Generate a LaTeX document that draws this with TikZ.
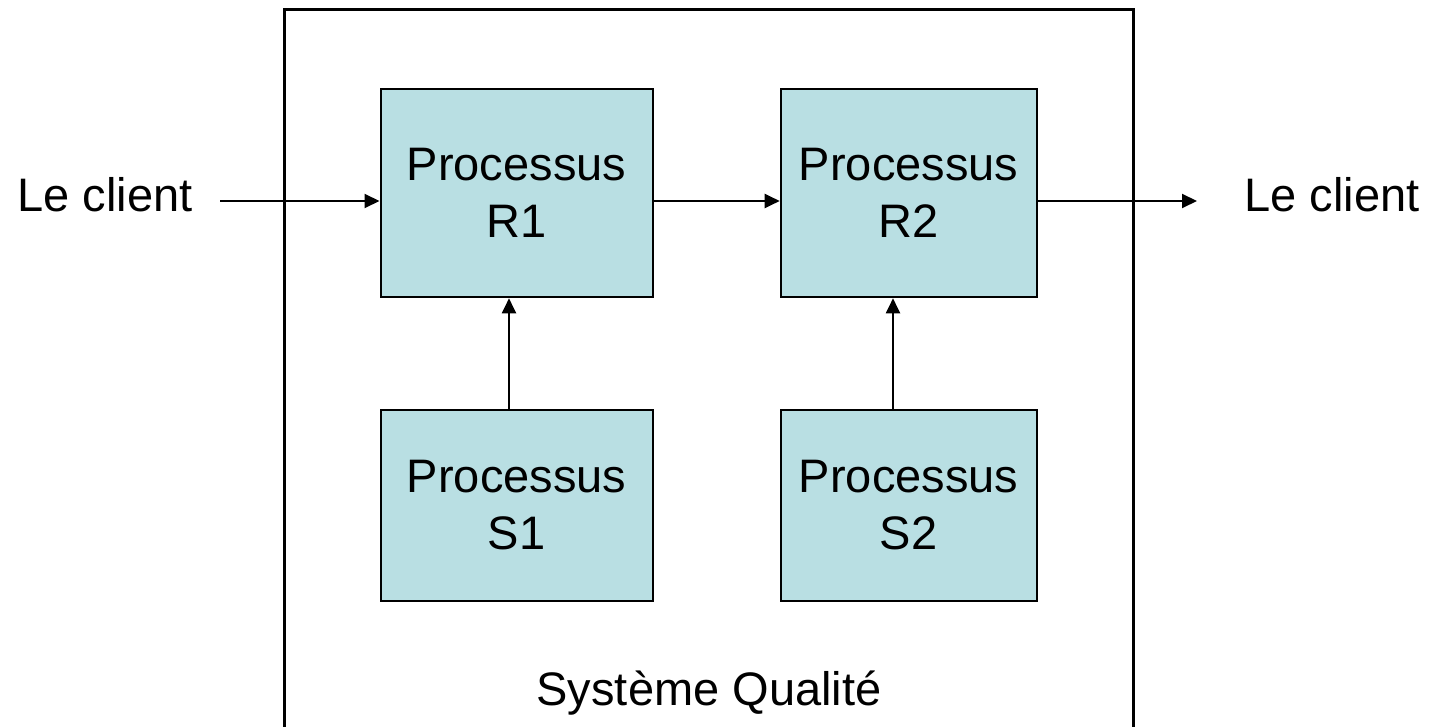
\documentclass[tikz,border=0pt]{standalone}
\usepackage{fontspec}
\setmainfont{Liberation Sans}
\usetikzlibrary{arrows.meta}
\definecolor{procfill}{RGB}{185,223,227}
\tikzset{
  procbox/.style={draw=black, line width=2pt, fill=procfill, inner sep=0pt,
    minimum height=208pt, align=center, font=\fontsize{47}{57}\selectfont},
  lbl/.style={inner sep=0pt, anchor=base, font=\fontsize{47}{57}\selectfont},
  arr/.style={draw=black, line width=2pt, -{Triangle[length=15pt,width=14pt]}}
}
\begin{document}
\begin{tikzpicture}[x=1pt,y=-1pt]
\useasboundingbox (0,0) rectangle (1433,727);
% outer box (bottom edge off the page)
\draw[line width=3pt] (284.5,9.5) rectangle (1133,760);
\node[lbl] (sq) at (709,705) {Système Qualité};
% process boxes
\node[procbox, minimum width=272pt] (R1) at (516.5,193.3) {Processus\\R1};
\node[procbox, minimum width=256pt] (R2) at (908.7,193.3) {Processus\\R2};
\node[procbox, minimum width=272pt, minimum height=191pt] (S1) at (516.7,505) {Processus\\S1};
\node[procbox, minimum width=256pt, minimum height=191pt] (S2) at (908.7,505) {Processus\\S2};
% client labels
\node[lbl] (cl) at (105,211.7) {Le client};
\node[lbl] (cr) at (1332,211.7) {Le client};
% connector helpers
\coordinate (row) at (0,201);
\coordinate (cin) at (220,201);
\coordinate (cout) at (1197,201);
\coordinate (v1) at (509,0);
\coordinate (v2) at (893,0);
% connectors
\draw[arr] (cin) -- (cin -| R1.west);
\draw[arr] (R1.east |- row) -- (R2.west |- row);
\draw[arr] (R2.east |- row) -- (cout);
\draw[arr] (S1.north -| v1) -- (R1.south -| v1);
\draw[arr] (S2.north -| v2) -- (R2.south -| v2);
\end{tikzpicture}
\end{document}
